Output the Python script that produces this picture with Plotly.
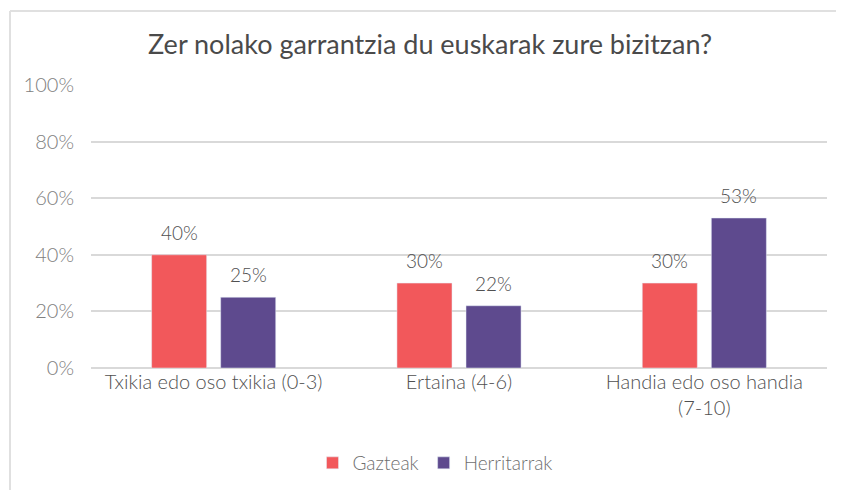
import plotly.graph_objects as go

categories = ["Txikia edo oso txikia (0-3)", "Ertaina (4-6)", "Handia edo oso handia<br>(7-10)"]
gazteak = [40, 30, 30]
herritarrak = [25, 22, 53]
labels_g = ["40%", "30%", "30%"]
labels_h = ["25%", "22%", "53%"]
ytick_vals = [0, 20, 40, 60, 80, 100]
ytick_text = ["0%", "20%", "40%", "60%", "80%", "100%"]

RED = "#F2585B"
PURPLE = "#5E4A8E"
TXT = "#595959"
FONT = "Lato"

L, R, T, B = 83, 25, 77, 133
PW, PH = 844 - L - R, 493 - T - B

fig = go.Figure()
fig.add_trace(go.Bar(x=categories, y=gazteak, name="Gazteak", marker_color=RED))
fig.add_trace(go.Bar(x=categories, y=herritarrak, name="Herritarrak", marker_color=PURPLE))

# value labels above the bars
for series, labels, shift in ((gazteak, labels_g, -34.5), (herritarrak, labels_h, 34.5)):
    for cat, val, lab in zip(categories, series, labels):
        fig.add_annotation(x=cat, y=val, xref="x", yref="y", text=lab, showarrow=False,
                           xshift=shift, yshift=9, yanchor="bottom",
                           font=dict(size=19, color="#505050", family=FONT, weight=300))

fig.update_layout(
    width=844, height=493,
    margin=dict(l=L, r=R, t=T, b=B),
    paper_bgcolor="white", plot_bgcolor="white",
    barmode="group", bargap=0.437, bargroupgap=0.203,
    title=dict(text="Zer nolako garrantzia du euskarak zure bizitzan?",
               x=0.5, xanchor="center", y=0.925, yanchor="middle",
               font=dict(size=27, color="#4A4A4A", family=FONT, weight=400)),
    font=dict(family=FONT, color=TXT),
    legend=dict(orientation="h", x=(435 - 8 - L) / PW, xanchor="center", y=(360 - 455) / PH,
                yanchor="middle",
                font=dict(size=19, color="#6F6F6F", family=FONT, weight=300), itemwidth=30,
                traceorder="normal"),
    showlegend=True,
)
fig.update_xaxes(showgrid=False, showline=False, ticks="",
                 tickfont=dict(size=20, color="#505050", family=FONT, weight=300))
fig.update_yaxes(range=[0, 100], tickvals=ytick_vals, ticktext=ytick_text,
                 showgrid=True, gridcolor="#D9D9D9", gridwidth=1.5,
                 zeroline=True, zerolinecolor="#D9D9D9", zerolinewidth=1.5,
                 ticks="", ticklen=0, ticklabelstandoff=16,
                 tickfont=dict(size=20, color="#808080", family=FONT, weight=300))

# light frame around chart (left and top edges)
xl = (2 - L) / PW
yt = 1 + (T - 3) / PH
yb = (PH + T - 482) / PH
fig.add_shape(type="line", xref="paper", yref="paper",
              x0=xl, x1=xl, y0=yt, y1=yb,
              line=dict(color="#E0E0E0", width=2))
fig.add_shape(type="line", xref="paper", yref="paper",
              x0=xl, x1=1 + (R + 20) / PW, y0=yt, y1=yt,
              line=dict(color="#E0E0E0", width=2))

fig.write_html("out.html")
